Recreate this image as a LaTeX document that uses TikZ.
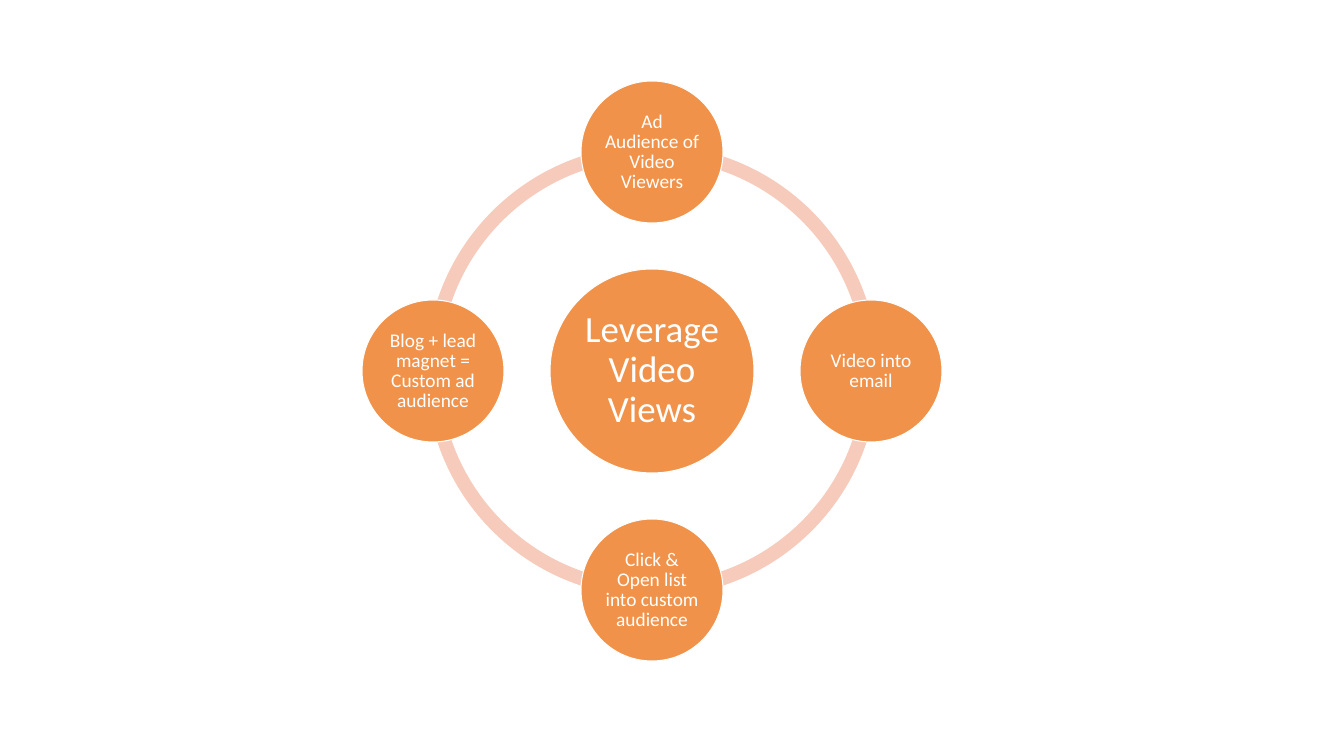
\documentclass[tikz,border=0pt]{standalone}
\usepackage{fontspec}
\setmainfont{Carlito}
\definecolor{cycleorange}{RGB}{240, 146, 74}
\definecolor{ringpink}{RGB}{246, 203, 188}
\usetikzlibrary{positioning}
\tikzset{
    stepcircle/.style={draw=white, line width=0.6pt, circle, fill=cycleorange, text=white, minimum size=2.84cm, inner sep=0pt, align=center, font=\fontsize{11}{11.4}\selectfont},
    hubcircle/.style={stepcircle, minimum size=4.08cm, font=\fontsize{21}{22.8}\selectfont},
    ringline/.style={draw=ringpink, line width=0.28cm},
}

\begin{document}
\begin{tikzpicture}
                \useasboundingbox (0,0) rectangle (26.4,14.82);

                % Ring
                \coordinate (hub) at (13.04, 7.4);
                \draw[ringline] (hub) circle (4.38);

                % Center
                \node[hubcircle] (leverage) at (hub) {Leverage\\Video\\Views};

                % Steps
                \node[stepcircle] (adaud) at (13.04, 11.78) {Ad\\Audience of\\Video\\Viewers};
                \node[stepcircle] (email) at (17.42, 7.4) {Video into\\email};
                \node[stepcircle] (clicklist) at (13.04, 3.02) {Click \&\\Open list\\into custom\\audience};
                \node[stepcircle] (blog) at (8.66, 7.4) {Blog + lead\\magnet =\\Custom ad\\audience};
            \end{tikzpicture}
\end{document}
